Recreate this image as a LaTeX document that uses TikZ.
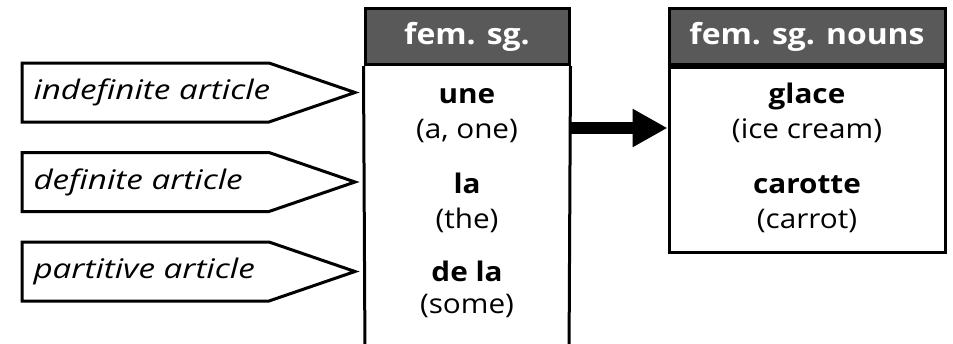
\documentclass[tikz,border=0pt]{standalone}
\usepackage{fontspec}
\setmainfont{Open Sans}[FakeStretch=1.1]
\newfontfamily\tagfont{Open Sans}[FakeStretch=1.23]
\usetikzlibrary{arrows.meta}
\definecolor{headgray}{RGB}{89,89,89}
\begin{document}
\begin{tikzpicture}[x=1pt,y=-1pt,line width=3pt,
  headbox/.style={draw,fill=headgray,text=white,inner sep=0pt,
    font=\fontsize{29}{34}\selectfont\bfseries},
  word/.style={anchor=base,inner sep=0pt,font=\fontsize{27}{32}\selectfont\bfseries},
  gloss/.style={anchor=base,inner sep=0pt,font=\fontsize{27}{32}\selectfont},
  tagtext/.style={anchor=west,inner sep=0pt,font=\tagfont\fontsize{27}{32}\selectfont\itshape},
  tagshape/.style={draw,line join=miter},
  bigarrow/.style={line width=12pt,-{Triangle[length=35pt,width=36pt]}}
]
\useasboundingbox (0,0) rectangle (953,343);
\begin{scope}
\clip (0,0) rectangle (953,343);
% middle column
\node[headbox,minimum width=204pt,minimum height=56pt] (h1) at (467,36.5) {fem. sg.};
\coordinate (b1l) at (365,360);
\coordinate (b1r) at (569,360);
\draw (h1.south west) -- (b1l);
\draw (h1.south east) -- (b1r);
\end{scope}
\node[word]  (une)  at (467,103) {une};
\node[gloss] (gune) at (467,138) {(a, one)};
\node[word]  (la)   at (467,193) {la};
\node[gloss] (gla)  at (467,228) {(the)};
\node[word]  (dela) at (467,281) {de la};
\node[gloss] (gdela) at (467,313) {(some)};
% right column
\node[headbox,minimum width=276pt,minimum height=56pt] (h2) at (807,36.5) {fem. sg. nouns};
\node[draw,minimum width=276pt,minimum height=184.5pt,anchor=north,inner sep=0pt] (b2) at (h2.south) {};
\node[word]  (glace) at (807,103) {glace};
\node[gloss] (gglace) at (807,138) {(ice cream)};
\node[word]  (car) at (807,193) {carotte};
\node[gloss] (gcar) at (807,228) {(carrot)};
% arrow
\coordinate (a1) at (569,128);
\draw[bigarrow] (a1) -- (a1 -| b2.west);
% tags
\foreach \n/\y/\t in {t1/92.5/indefinite article,t2/182/definite article,t3/271.5/partitive article}{
  \draw[tagshape] (22,\y-29.5) -- (269,\y-29.5) -- (355,\y) -- (269,\y+29.5) -- (22,\y+29.5) -- cycle;
  \node[tagtext] (\n) at (32,\y) {\t};
}
\end{tikzpicture}
\end{document}
